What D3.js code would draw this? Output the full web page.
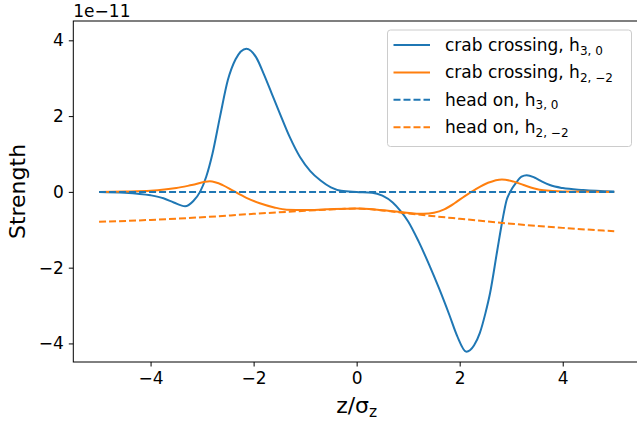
<!DOCTYPE html>
<html>
<head>
<meta charset="utf-8">
<script src="https://cdn.jsdelivr.net/npm/d3@7"></script>
<style>
  html, body { margin: 0; padding: 0; background: #fff; }
  svg { display: block; font-family: "DejaVu Sans", sans-serif; }
</style>
</head>
<body>
<svg id="chart" width="637" height="429"></svg>
<script>
// Wake-field strength along the bunch (units of 1e-11), sampled at knots in z/sigma_z.
const crabH30Z = [-5, -4.5, -4.0, -3.75, -3.55, -3.33, -3.17, -3.04, -2.92, -2.8, -2.65, -2.5, -2.35, -2.14,
  -1.95, -1.8, -1.65, -1.5, -1.3, -1.1, -0.9, -0.7, -0.5, -0.3, 0, 0.3, 0.5, 0.7, 0.85, 1.0, 1.2, 1.4, 1.6,
  1.8, 1.95, 2.13, 2.28, 2.39, 2.5, 2.59, 2.73, 2.83, 2.91, 2.98, 3.1, 3.2, 3.3, 3.45, 3.6, 3.75, 4.0, 4.4, 5];
const crabH30 = [0, -0.02, -0.09, -0.17, -0.28, -0.38, -0.24, 0, 0.40, 1.0, 2.0, 2.95, 3.5, 3.78,
  3.55, 3.1, 2.6, 2.1, 1.45, 0.92, 0.55, 0.3, 0.12, 0.03, 0, -0.02, -0.1, -0.28, -0.5, -0.78, -1.3, -1.9, -2.55,
  -3.25, -3.8, -4.22, -4.05, -3.73, -3.2, -2.67, -1.54, -0.75, -0.22, 0, 0.25, 0.4, 0.44, 0.38, 0.27, 0.18, 0.1, 0.05, 0.01];

const crabH22Z = [-5, -4.5, -4, -3.5, -3.2, -2.85, -2.6, -2.4, -2.15, -1.88, -1.6, -1.36, -1.0, -0.58, 0,
  0.4, 0.84, 1.3, 1.5, 1.7, 1.9, 2.1, 2.3, 2.55, 2.82, 3.05, 3.24, 3.45, 3.63, 4.0, 5];
const crabH22 = [0, 0.01, 0.03, 0.10, 0.18, 0.28, 0.18, 0.03, -0.15, -0.30, -0.41, -0.47, -0.48, -0.46, -0.44,
  -0.47, -0.53, -0.58, -0.55, -0.46, -0.30, -0.11, 0.06, 0.24, 0.33, 0.27, 0.18, 0.09, 0.04, 0.01, 0];

const headH30Z = [-5, 5];
const headH30 = [0, 0];

const headH22Z = [-5, -4, -3, -2, -1, -0.3, 0, 0.5, 1, 2, 3, 4, 5];
const headH22 = [-0.79, -0.74, -0.67, -0.58, -0.5, -0.45, -0.44, -0.49, -0.57, -0.71, -0.84, -0.95, -1.04];

const xTicks = [-4, -2, 0, 2, 4];
const yTicks = [-4, -2, 0, 2, 4];

const seriesList = [
  { z: crabH30Z, v: crabH30, color: "#1f77b4", dash: null, label: "crab crossing, h", sub: "3, 0" },
  { z: crabH22Z, v: crabH22, color: "#ff7f0e", dash: null, label: "crab crossing, h", sub: "2, \u22122" },
  { z: headH30Z, v: headH30, color: "#1f77b4", dash: "7,3", label: "head on, h", sub: "3, 0" },
  { z: headH22Z, v: headH22, color: "#ff7f0e", dash: "7,3", label: "head on, h", sub: "2, \u22122" }
];

const svg = d3.select("#chart");
const L = 73.3, R = 640, T = 21, B = 362;

const x = d3.scaleLinear().domain([-5.5, 5.5]).range([L, R]);
const y = d3.scaleLinear().domain([-4.49, 4.51]).range([B, T]);

// series lines
const line = d3.line().x(d => x(d[0])).y(d => y(d[1])).curve(d3.curveMonotoneX);
seriesList.forEach(s => {
  svg.append("path")
    .datum(s.z.map((z, i) => [z, s.v[i]]))
    .attr("d", line)
    .attr("fill", "none")
    .attr("stroke", s.color)
    .attr("stroke-width", 2)
    .attr("stroke-dasharray", s.dash);
});

// axes
const xAxis = svg.append("g").attr("transform", `translate(0,${B})`)
  .call(d3.axisBottom(x).tickValues(xTicks).tickSizeOuter(0).tickSize(4.5).tickPadding(5));
const yAxis = svg.append("g").attr("transform", `translate(${L},0)`)
  .call(d3.axisLeft(y).tickValues(yTicks).tickSizeOuter(0).tickSize(4.5).tickPadding(5));
[xAxis, yAxis].forEach(g => {
  g.select(".domain").remove();
  g.selectAll(".tick line").attr("stroke", "#000").attr("stroke-width", 1);
  g.selectAll(".tick text").attr("font-size", 17).attr("fill", "#000")
    .attr("font-family", "DejaVu Sans");
});
xAxis.selectAll(".tick text").attr("dy", "0.73em");

// frame
svg.append("rect").attr("x", L).attr("y", T).attr("width", R - L).attr("height", B - T)
  .attr("fill", "none").attr("stroke", "#000").attr("stroke-width", 1);

// offset text
svg.append("text").attr("x", L).attr("y", 17).attr("font-size", 17).attr("fill", "#000")
  .text("1e\u221211");

// axis labels
const xl = svg.append("text").attr("x", x(0)).attr("y", 413)
  .attr("text-anchor", "middle").attr("font-size", 22).attr("fill", "#000");
xl.append("tspan").text("z/\u03c3");
xl.append("tspan").attr("font-size", 15.5).attr("dy", 4).text("z");

svg.append("text").attr("transform", `translate(25,${(T + B) / 2}) rotate(-90)`)
  .attr("text-anchor", "middle").attr("font-size", 22).attr("fill", "#000").text("Strength");

// legend
const lg = svg.append("g");
lg.append("rect").attr("x", 387.5).attr("y", 30).attr("width", 244).attr("height", 116.5)
  .attr("rx", 3).attr("fill", "#fff").attr("fill-opacity", 0.8)
  .attr("stroke", "#cccccc").attr("stroke-width", 1);
seriesList.forEach((s, i) => {
  const cy = 45 + i * 27.4;
  lg.append("line").attr("x1", 393.5).attr("x2", 430).attr("y1", cy).attr("y2", cy)
    .attr("stroke", s.color).attr("stroke-width", 2).attr("stroke-dasharray", s.dash);
  const t = lg.append("text").attr("x", 445).attr("y", cy + 6).attr("font-size", 17).attr("fill", "#000");
  t.append("tspan").text(s.label);
  t.append("tspan").attr("font-size", 12).attr("dy", 3.5).text(s.sub);
});
</script>
</body>
</html>
